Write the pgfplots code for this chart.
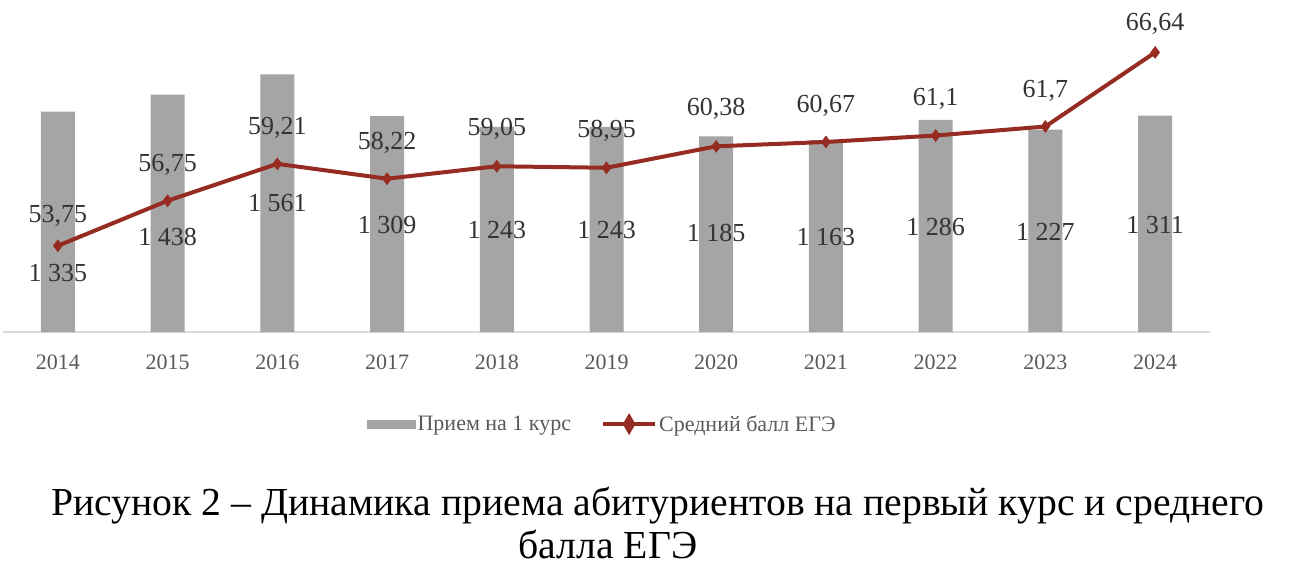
\documentclass[border=0pt]{standalone}
\usepackage{fontspec}
\setmainfont{Liberation Serif}
\usepackage{pgfplots}
\pgfplotsset{compat=1.18}
\definecolor{barg}{HTML}{A5A5A5}
\definecolor{lred}{HTML}{962B22}
\definecolor{lblc}{HTML}{333333}
\definecolor{tickc}{HTML}{595959}
\definecolor{axc}{HTML}{D9D9D9}
\begin{document}
\begin{tikzpicture}[x=1pt,y=1pt]
\path[use as bounding box] (0,0) rectangle (1292,-574);
\begin{axis}[
  at={(3pt,-332pt)}, anchor=south west, scale only axis,
  width=1207pt, height=330pt,
  xmin=-0.5, xmax=10.5, ymin=0, ymax=2000,
  ybar, bar width=34pt,
  axis x line*=bottom, axis y line=none,
  x axis line style={draw=axc, line width=1.5pt, -},
  xtick={0,1,2,3,4,5,6,7,8,9,10},
  xticklabels={2014,2015,2016,2017,2018,2019,2020,2021,2022,2023,2024},
  major tick length=0pt,
  xticklabel style={font=\fontsize{22}{26}\selectfont, text=tickc, yshift=-19pt},
  clip=false,
]
\addplot[fill=barg, draw=none] coordinates {
(0,1335) (1,1438) (2,1561) (3,1309) (4,1243) (5,1243) (6,1185) (7,1163) (8,1286) (9,1227) (10,1311)};
\begin{scope}[every node/.style={font=\fontsize{26}{30}\selectfont, text=lblc}]
\node at (axis cs:0,358) {1 335};
\node at (axis cs:1,576) {1 438};
\node at (axis cs:2,782) {1 561};
\node at (axis cs:3,648) {1 309};
\node at (axis cs:4,618) {1 243};
\node at (axis cs:5,618) {1 243};
\node at (axis cs:6,600) {1 185};
\node at (axis cs:7,576) {1 163};
\node at (axis cs:8,636) {1 286};
\node at (axis cs:9,606) {1 227};
\node at (axis cs:10,648) {1 311};
\end{scope}
\end{axis}
\begin{axis}[
  at={(3pt,-332pt)}, anchor=south west, scale only axis,
  width=1207pt, height=330pt,
  xmin=-0.5, xmax=10.5, ymin=48, ymax=70,
  hide axis, clip=false,
  legend columns=2,
  legend style={at={(0.4966,-0.279)}, anchor=center, draw=none, fill=none,
    font=\fontsize{22}{26}\selectfont, text=tickc,
    /tikz/column 2/.style={column sep=28pt}},
]
\addlegendimage{legend image code/.code={\fill[barg] (0pt,-4pt) rectangle (48pt,4pt);}}
\addlegendentry{Прием на 1 курс}
\addplot[lred, line width=4pt, mark=diamond*, mark size=6pt,
  mark options={solid, line width=0.5pt, fill=lred},
  legend image code/.code={\draw[lred, line width=4pt] (0pt,0pt) -- (52pt,0pt);
    \fill[lred] (26pt,7pt) -- (30pt,0pt) -- (26pt,-7pt) -- (22pt,0pt) -- cycle;}]
coordinates {
(0,53.75) (1,56.75) (2,59.21) (3,58.22) (4,59.05) (5,58.95) (6,60.38) (7,60.67) (8,61.1) (9,61.7) (10,66.64)};
\addlegendentry{Средний балл ЕГЭ}
\begin{scope}[every node/.style={font=\fontsize{26}{30}\selectfont, text=lblc}]
\node at (axis cs:0,55.73) {53,75};
\node at (axis cs:1,59.13) {56,75};
\node at (axis cs:2,61.6) {59,21};
\node at (axis cs:3,60.6) {58,22};
\node at (axis cs:4,61.53) {59,05};
\node at (axis cs:5,61.4) {58,95};
\node at (axis cs:6,62.87) {60,38};
\node at (axis cs:7,63.07) {60,67};
\node at (axis cs:8,63.53) {61,1};
\node at (axis cs:9,64.07) {61,7};
\node at (axis cs:10,68.53) {66,64};
\end{scope}
\end{axis}
\node[anchor=base, font=\fontsize{39.7}{48}\selectfont] at (658,-515) {Рисунок 2 – Динамика приема абитуриентов на первый курс и среднего};
\node[anchor=base, font=\fontsize{39.7}{48}\selectfont] at (608,-558) {балла ЕГЭ};
\end{tikzpicture}
\end{document}
